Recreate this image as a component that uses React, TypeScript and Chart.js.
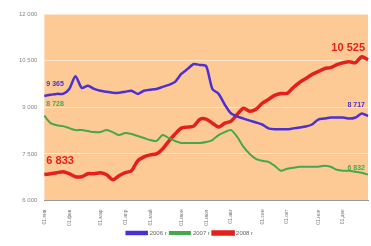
import React, { useEffect, useRef } from "react";
import { Chart, registerables } from "chart.js";

Chart.register(...registerables);

const monthNames = ["янв", "фев", "мар", "апр", "май", "июн", "июл", "авг", "сен", "окт", "ноя", "дек"];

// 53 weekly points (approx. one year)
const weeks: string[] = Array.from({ length: 53 }, (_, i) => `w${i}`);
// indices where month labels are shown
const monthTickIdx = [0, 4, 9, 13, 17, 22, 26, 30, 35, 39, 44, 48];

const series2006 = [
  9365, 9400, 9430, 9430, 9590, 10000, 9620, 9690, 9590, 9530, 9500, 9465, 9465, 9500, 9530, 9430,
  9530, 9560, 9590, 9655, 9720, 9815, 10070, 10230, 10390, 10360, 10325, 9590, 9430, 9080, 8800,
  8700, 8635, 8570, 8510, 8445, 8320, 8290, 8290, 8290, 8320, 8350, 8380, 8445, 8605, 8635, 8670,
  8670, 8670, 8635, 8670, 8800, 8717,
];
const series2007 = [
  8728, 8488, 8424, 8393, 8329, 8265, 8265, 8233, 8201, 8201, 8265, 8201, 8105, 8169, 8137, 8074,
  8010, 7946, 7914, 8105, 8010, 7914, 7850, 7850, 7850, 7850, 7882, 7946, 8105, 8201, 8265, 8042,
  7723, 7499, 7340, 7276, 7244, 7117, 6957, 7021, 7053, 7085, 7085, 7085, 7085, 7117, 7085, 6989,
  6957, 6957, 6925, 6893, 6832,
];
const series2008 = [
  6833, 6861, 6893, 6925, 6861, 6766, 6766, 6861, 6861, 6893, 6829, 6670, 6797, 6893, 6957, 7276,
  7404, 7467, 7499, 7659, 7914, 8137, 8329, 8361, 8393, 8616, 8616, 8488, 8361, 8488, 8552, 8775,
  8967, 8871, 8935, 9126, 9254, 9381, 9445, 9445, 9637, 9796, 9924, 10051, 10147, 10243, 10275,
  10370, 10434, 10466, 10434, 10626, 10525,
];
const yTicks = [6000, 7500, 9000, 10500, 12000];
const seriesNames = ["2006 г", "2007 г", "2008 г"];
const colors = ["#4e30d2", "#45a849", "#e51f1a"];

const fmt = (v: number) => String(v).replace(/\B(?=(\d{3})+(?!\d))/g, " ");

const plotBg = {
  id: "plotBg",
  beforeDraw(chart: any) {
    const { ctx, chartArea: a } = chart;
    ctx.save();
    ctx.fillStyle = "#fdca95";
    ctx.fillRect(a.left, a.top, a.right - a.left, a.bottom - a.top);
    ctx.restore();
  },
};

const endLabels = {
  id: "endLabels",
  afterDatasetsDraw(chart: any) {
    const ctx = chart.ctx;
    const specs = [
      { ds: 0, first: { size: 7, dy: -12 }, last: { size: 7, dy: -11 } },
      { ds: 1, first: { size: 7, dy: -12 }, last: { size: 7, dy: -7 } },
      { ds: 2, first: { size: 11, dy: -14 }, last: { size: 11, dy: -12 } },
    ];
    ctx.save();
    specs.forEach((s) => {
      const meta = chart.getDatasetMeta(s.ds);
      const data = chart.data.datasets[s.ds].data as number[];
      const p0 = meta.data[0];
      const pn = meta.data[meta.data.length - 1];
      ctx.fillStyle = colors[s.ds];
      ctx.textBaseline = "middle";
      ctx.font = `bold ${s.first.size}px "Liberation Sans", Arial, sans-serif`;
      ctx.textAlign = "left";
      ctx.fillText(fmt(data[0]), p0.x + 2, p0.y + s.first.dy);
      ctx.font = `bold ${s.last.size}px "Liberation Sans", Arial, sans-serif`;
      ctx.textAlign = "right";
      ctx.fillText(fmt(data[data.length - 1]), pn.x - 3, pn.y + s.last.dy);
    });
    ctx.restore();
  },
};

export default function App() {
  const ref = useRef<HTMLCanvasElement>(null);
  useEffect(() => {
    document.body.style.margin = "0";
    const chart = new Chart(ref.current!, {
      type: "line",
      data: {
        labels: weeks,
        datasets: [series2006, series2007, series2008].map((d, i) => ({
          label: seriesNames[i],
          data: d,
          borderColor: colors[i],
          backgroundColor: colors[i],
          borderWidth: i === 2 ? 3.5 : i === 0 ? 2.5 : 2,
          pointRadius: 0,
          tension: 0.25,
        })),
      },
      options: {
        animation: false,
        responsive: false,
        layout: { padding: { top: 14, right: 3, left: 12, bottom: 0 } },
        plugins: {
          legend: {
            position: "bottom",
            labels: {
              boxWidth: 20,
              boxHeight: 2,
              padding: 3,
              color: "#666",
              font: { size: 6, family: '"Liberation Sans", Arial, sans-serif' },
            },
          },
          tooltip: { enabled: false },
        },
        scales: {
          x: {
            grid: { display: false },
            border: { color: "#999" },
            ticks: {
              autoSkip: false,
              maxRotation: 90,
              minRotation: 90,
              color: "#777",
              padding: 1,
              font: { size: 5, family: '"Liberation Sans", Arial, sans-serif' },
              callback: (_v: any, i: number) => {
                const k = monthTickIdx.indexOf(i);
                return k >= 0 ? `01.${monthNames[k]}` : null;
              },
            },
          },
          y: {
            min: 6000,
            max: 12000,
            afterBuildTicks: (axis: any) => {
              axis.ticks = yTicks.map((v) => ({ value: v }));
            },
            grid: { color: "rgba(255,235,210,0.9)", drawTicks: false },
            border: { display: false },
            ticks: {
              color: "#888",
              padding: 7,
              font: { size: 6, family: '"Liberation Sans", Arial, sans-serif' },
              callback: (v: any) => fmt(Number(v)),
            },
          },
        },
      },
      plugins: [plotBg, endLabels],
    });
    return () => chart.destroy();
  }, []);
  return (
    <div style={{ width: 371, height: 246 }}>
      <canvas ref={ref} width={371} height={246} style={{ width: 371, height: 246 }} />
    </div>
  );
}
